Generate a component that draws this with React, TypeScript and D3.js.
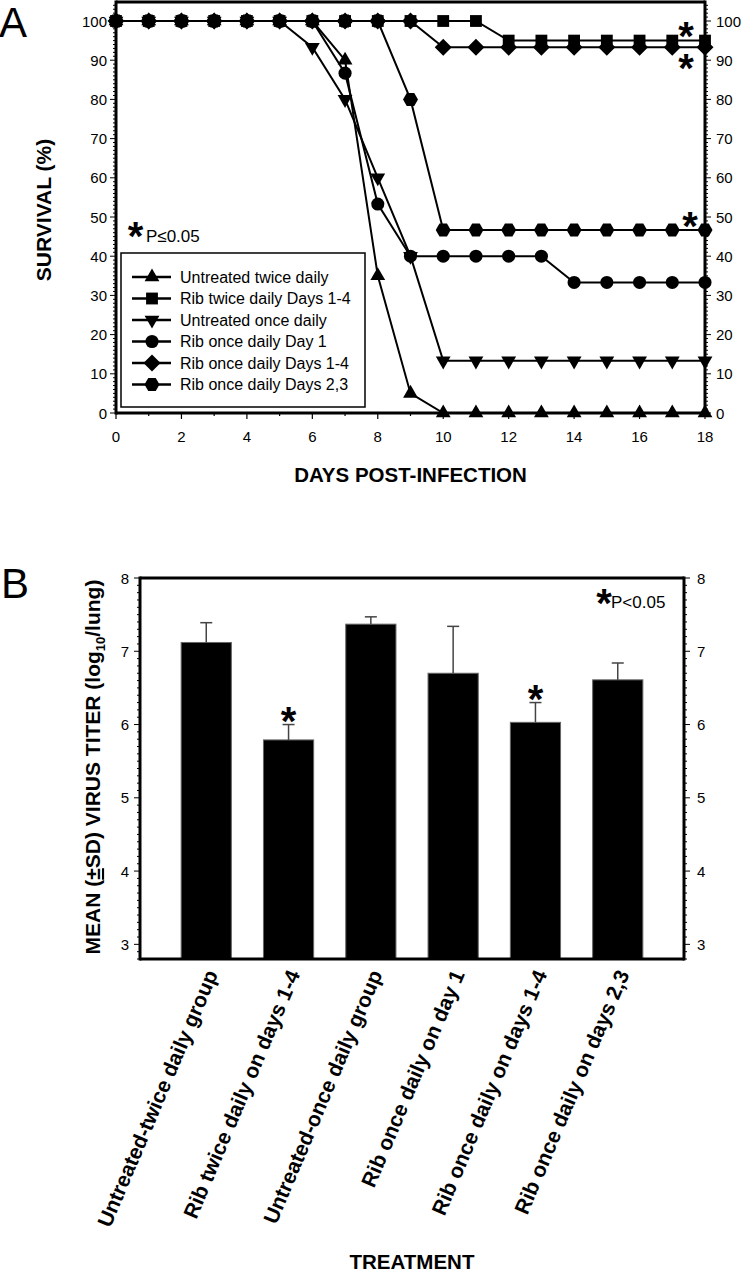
import React from "react";
import * as d3 from "d3";

const FONT = "'Liberation Sans', Arial, Helvetica, sans-serif";

// ---- Panel A: survival ----
const days = [0, 1, 2, 3, 4, 5, 6, 7, 8, 9, 10, 11, 12, 13, 14, 15, 16, 17, 18];
const untreatedTwice = [100, 100, 100, 100, 100, 100, 100, 90, 35, 5, 0, 0, 0, 0, 0, 0, 0, 0, 0];
const ribTwiceDays14 = [100, 100, 100, 100, 100, 100, 100, 100, 100, 100, 100, 100, 95, 95, 95, 95, 95, 95, 95];
const untreatedOnce = [100, 100, 100, 100, 100, 100, 93.3, 80, 60, 40, 13.3, 13.3, 13.3, 13.3, 13.3, 13.3, 13.3, 13.3, 13.3];
const ribOnceDay1 = [100, 100, 100, 100, 100, 100, 100, 86.7, 53.3, 40, 40, 40, 40, 40, 33.3, 33.3, 33.3, 33.3, 33.3];
const ribOnceDays14 = [100, 100, 100, 100, 100, 100, 100, 100, 100, 100, 93.3, 93.3, 93.3, 93.3, 93.3, 93.3, 93.3, 93.3, 93.3];
const ribOnceDays23 = [100, 100, 100, 100, 100, 100, 100, 100, 100, 80, 46.7, 46.7, 46.7, 46.7, 46.7, 46.7, 46.7, 46.7, 46.7];

const survivalTicks = [0, 10, 20, 30, 40, 50, 60, 70, 80, 90, 100];
const dayTicks = [0, 2, 4, 6, 8, 10, 12, 14, 16, 18];

const seriesA = [
  { name: "Untreated twice daily", values: untreatedTwice, shape: "triUp" },
  { name: "Rib twice daily Days 1-4", values: ribTwiceDays14, shape: "square" },
  { name: "Untreated once daily", values: untreatedOnce, shape: "triDown" },
  { name: "Rib once daily Day 1", values: ribOnceDay1, shape: "circle" },
  { name: "Rib once daily Days 1-4", values: ribOnceDays14, shape: "diamond" },
  { name: "Rib once daily Days 2,3", values: ribOnceDays23, shape: "hexagon" },
];

// ---- Panel B: virus titers ----
const treatments = [
  "Untreated-twice daily group",
  "Rib twice daily on days 1-4",
  "Untreated-once daily group",
  "Rib once daily on day 1",
  "Rib once daily on days 1-4",
  "Rib once daily on days 2,3",
];
const titerMean = [7.12, 5.79, 7.37, 6.7, 6.03, 6.61];
const titerSD = [0.27, 0.21, 0.1, 0.64, 0.27, 0.23];
const titerSignificant = [false, true, false, false, true, false];
const titerTicks = [3, 4, 5, 6, 7, 8];

const hexPath = (() => {
  const r = 7.5;
  const pts = [0, 1, 2, 3, 4, 5].map((k) => {
    const a = (Math.PI / 3) * k;
    return [r * Math.cos(a), r * Math.sin(a)];
  });
  return "M" + pts.map((p) => p.join(",")).join("L") + "Z";
})();

function markerPath(shape: string): string {
  switch (shape) {
    case "triUp":
    case "triDown":
      return d3.symbol(d3.symbolTriangle, 95)() as string;
    case "square":
      return d3.symbol(d3.symbolSquare, 140)() as string;
    case "circle":
      return d3.symbol(d3.symbolCircle, 135)() as string;
    case "diamond":
      return "M0,-8.5L8.5,0L0,8.5L-8.5,0Z";
    default:
      return hexPath;
  }
}

const Marker = ({ shape, x, y }: { shape: string; x: number; y: number }) => (
  <path
    d={markerPath(shape)}
    transform={`translate(${x},${y})${shape === "triDown" ? " rotate(180)" : ""}`}
    fill="#000"
  />
);

// asterisk drawn as text, centred on (cx, cy)
const Star = ({ cx, cy, size = 40 }: { cx: number; cy: number; size?: number }) => (
  <text x={cx} y={cy + size * 0.575} fontSize={size} fontWeight="bold" textAnchor="middle">
    *
  </text>
);

export default function App() {
  // scales for panel A
  const xA = d3.scaleLinear().domain([0, 18]).range([116, 705]);
  const yA = d3.scaleLinear().domain([0, 100]).range([413, 21]);
  const topA = 2;
  const lineA = d3
    .line<number>()
    .x((_, i) => xA(days[i]))
    .y((d) => yA(d));

  // scales for panel B
  const xB = d3.scaleBand<string>().domain(treatments).range([140, 684]).paddingInner(0.39).paddingOuter(0.5);
  const yB = d3.scaleLinear().domain([2.8, 8]).range([959, 578]);

  const minorA = d3.range(0, 105, 1);
  const minorB = d3.range(28, 81, 1).map((v) => v / 10);

  const legendRows = [277, 298.5, 320, 341.5, 363, 384.5];

  return (
    <svg
      width={745}
      height={1274}
      style={{ position: "absolute", left: 0, top: 0, background: "#fff" }}
      fontFamily={FONT}
    >
      <rect width={745} height={1274} fill="#fff" />

      {/* ================= PANEL A ================= */}
      <text x={-1} y={37} fontSize={42}>A</text>

      {/* ticks */}
      {minorA.map((v) => (
        <g key={"ma" + v}>
          <line x1={xA(0) - (v % 10 === 0 ? 6 : 3)} x2={xA(0)} y1={yA(v)} y2={yA(v)} stroke="#000" strokeWidth={1} />
          <line x1={xA(18)} x2={xA(18) + (v % 10 === 0 ? 6 : 3)} y1={yA(v)} y2={yA(v)} stroke="#000" strokeWidth={1} />
        </g>
      ))}
      {days.map((d) => (
        <line key={"dt" + d} x1={xA(d)} x2={xA(d)} y1={yA(0)} y2={yA(0) + (d % 2 === 0 ? 6 : 3)} stroke="#000" strokeWidth={1.2} />
      ))}
      {survivalTicks.map((v) => (
        <g key={"sl" + v} fontSize={15}>
          <text x={107} y={yA(v) + 5.5} textAnchor="end">{v}</text>
          <text x={716} y={yA(v) + 5.5}>{v}</text>
        </g>
      ))}
      {dayTicks.map((d) => (
        <text key={"dl" + d} x={xA(d)} y={442} fontSize={15} textAnchor="middle">{d}</text>
      ))}

      {/* frame */}
      <line x1={xA(0)} x2={xA(18)} y1={topA} y2={topA} stroke="#000" strokeWidth={3} />
      <line x1={xA(0)} x2={xA(18)} y1={yA(0)} y2={yA(0)} stroke="#000" strokeWidth={3} />
      <line x1={xA(0)} x2={xA(0)} y1={topA - 1.5} y2={yA(0) + 1.5} stroke="#000" strokeWidth={3} />
      <line x1={xA(18)} x2={xA(18)} y1={topA - 1.5} y2={yA(0) + 1.5} stroke="#000" strokeWidth={3} />

      {/* series */}
      {seriesA.map((s) => (
        <g key={s.name}>
          <path d={lineA(s.values) as string} fill="none" stroke="#000" strokeWidth={2} />
          {s.values.map((v, i) => (
            <Marker key={i} shape={s.shape} x={xA(days[i])} y={yA(v)} />
          ))}
        </g>
      ))}

      {/* significance marks */}
      <Star cx={686} cy={27} />
      <Star cx={686} cy={59} />
      <Star cx={690} cy={216.5} />
      <Star cx={135.5} cy={226.5} />
      <text x={146} y={242} fontSize={17}>P≤0.05</text>

      {/* legend */}
      <rect x={121} y={253} width={244} height={154} fill="#fff" stroke="#000" strokeWidth={1.5} />
      {seriesA.map((s, i) => (
        <g key={"lg" + s.name}>
          <line x1={132} x2={171} y1={legendRows[i]} y2={legendRows[i]} stroke="#000" strokeWidth={2.5} />
          <Marker shape={s.shape} x={152} y={legendRows[i]} />
          <text x={180} y={legendRows[i] + 5.5} fontSize={16}>{s.name}</text>
        </g>
      ))}

      {/* axis titles */}
      <text transform={`translate(51,${yA(50) - 7}) rotate(-90)`} fontSize={21} fontWeight="bold" textAnchor="middle">
        SURVIVAL (%)
      </text>
      <text x={(xA(0) + xA(18)) / 2} y={482} fontSize={20.5} fontWeight="bold" textAnchor="middle">
        DAYS POST-INFECTION
      </text>

      {/* ================= PANEL B ================= */}
      <text x={1} y={598} fontSize={42}>B</text>

      {minorB.map((v) => {
        const major = Math.abs(v - Math.round(v)) < 1e-6;
        return (
          <g key={"mb" + v}>
            <line x1={140 - (major ? 6 : 3)} x2={140} y1={yB(v)} y2={yB(v)} stroke="#000" strokeWidth={1} />
            <line x1={684} x2={684 + (major ? 6 : 3)} y1={yB(v)} y2={yB(v)} stroke="#000" strokeWidth={1} />
          </g>
        );
      })}
      {titerTicks.map((v) => (
        <g key={"tl" + v} fontSize={15}>
          <text x={129} y={yB(v) + 5.5} textAnchor="end">{v}</text>
          <text x={697} y={yB(v) + 5.5}>{v}</text>
        </g>
      ))}

      {/* bars + error bars */}
      {treatments.map((t, i) => {
        const x0 = xB(t) as number;
        const cx = x0 + xB.bandwidth() / 2;
        const yTop = yB(titerMean[i]);
        const yErr = yB(titerMean[i] + titerSD[i]);
        return (
          <g key={t}>
            <rect x={x0} y={yTop} width={xB.bandwidth()} height={yB(2.8) - yTop} fill="#000" stroke="#666" strokeWidth={1} />
            <line x1={cx} x2={cx} y1={yTop} y2={yErr} stroke="#444" strokeWidth={1.5} />
            <line x1={cx - 6} x2={cx + 6} y1={yErr} y2={yErr} stroke="#444" strokeWidth={1.5} />
            {titerSignificant[i] && <Star cx={cx} cy={yErr - 12.5} />}
          </g>
        );
      })}

      {/* frame */}
      <line x1={140} x2={684} y1={yB(8)} y2={yB(8)} stroke="#000" strokeWidth={3} />
      <line x1={140} x2={684} y1={yB(2.8)} y2={yB(2.8)} stroke="#000" strokeWidth={3} />
      <line x1={140} x2={140} y1={yB(8) - 1.5} y2={yB(2.8) + 1.5} stroke="#000" strokeWidth={3} />
      <line x1={684} x2={684} y1={yB(8) - 1.5} y2={yB(2.8) + 1.5} stroke="#000" strokeWidth={3} />

      <Star cx={604} cy={594} />
      <text x={611} y={608} fontSize={17}>P&lt;0.05</text>

      {/* category labels */}
      {treatments.map((t) => {
        const cx = (xB(t) as number) + xB.bandwidth() / 2;
        return (
          <text
            key={"cl" + t}
            transform={`translate(${cx + 12},${974}) rotate(-67)`}
            fontSize={21}
            fontWeight="bold"
            textAnchor="end"
          >
            {t}
          </text>
        );
      })}

      {/* axis titles */}
      <text transform={`translate(100,767) rotate(-90)`} fontSize={21} fontWeight="bold" textAnchor="middle">
        MEAN (<tspan textDecoration="underline">±</tspan>SD) VIRUS TITER (log
        <tspan fontSize={13} dy={5}>10</tspan>
        <tspan dy={-5}>/lung)</tspan>
      </text>
      <text x={412} y={1269} fontSize={20.5} fontWeight="bold" textAnchor="middle">
        TREATMENT
      </text>
    </svg>
  );
}
